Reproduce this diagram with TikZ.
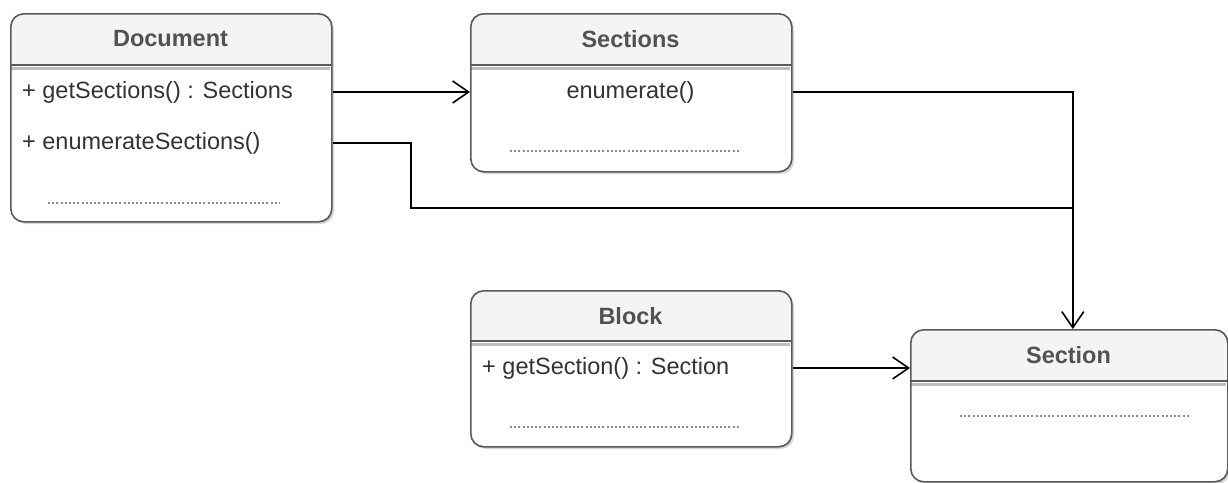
\documentclass[tikz,border=0pt]{standalone}
\usepackage{fontspec}
\setmainfont{Liberation Sans}
\usetikzlibrary{arrows.meta,calc}
\definecolor{headfill}{HTML}{F4F4F4}
\definecolor{boxline}{HTML}{5A5A5A}
\definecolor{sepline}{HTML}{BDBDBD}
\definecolor{shadowc}{HTML}{D6D6D6}
\definecolor{txt}{HTML}{333333}
\tikzset{
  boxborder/.style={draw=boxline, line width=1.6pt, rounded corners=13pt},
  hdr/.style={font=\fontsize{23.5pt}{28pt}\selectfont\bfseries, text=txt!85!white, inner sep=0pt},
  meth/.style={font=\fontsize{23.5pt}{28pt}\selectfont, text=txt, inner sep=0pt, anchor=west},
  cmeth/.style={font=\fontsize{23.5pt}{28pt}\selectfont, text=txt, inner sep=0pt},
  dots/.style={draw=gray!90, line width=1.2pt, dash pattern=on 2pt off 2.2pt},
  conn/.style={draw=black, line width=1.6pt},
  arr/.style={conn, -{Straight Barb[length=16pt,width=22pt,line width=1.6pt]}},
}
% #1 name, #2 x, #3 y, #4 w, #5 h, #6 header height
\newcommand\umlbox[6]{%
  \fill[shadowc, rounded corners=13pt] (#2+3,#3+3) rectangle ++(#4,#5);
  \fill[white, rounded corners=13pt] (#2,#3) rectangle ++(#4,#5);
  \fill[headfill] (#2,#3+#6) [rounded corners=13pt] -- (#2,#3) -- (#2+#4,#3) [sharp corners] -- (#2+#4,#3+#6) -- cycle;
  \draw[sepline, line width=3pt] (#2+1,#3+#6+3) -- (#2+#4-1,#3+#6+3);
  \draw[boxline, line width=1.6pt] (#2,#3+#6) -- (#2+#4,#3+#6);
  \node[boxborder, minimum width=#4pt, minimum height=#5pt, inner sep=0pt, anchor=north west] (#1) at (#2,#3) {};
}
\begin{document}
\begin{tikzpicture}[x=1pt,y=-1pt]
\useasboundingbox (0,0) rectangle (1228,482);
\path[fill=white] (0,0) rectangle (1228,482);

% Document
\umlbox{doc}{10}{13}{321}{208}{52}
\node[hdr] (docT) at (170.5,39) {Document};
\node[meth] (docM1) at (22,92) {+ getSections() : Sections};
\node[meth] (docM2) at (22,143) {+ enumerateSections()};
\draw[dots] (48,203) -- (280,203);

% Sections
\umlbox{secs}{470}{13}{321}{158}{52}
\node[hdr] (secsT) at (630.5,39) {Sections};
\node[cmeth] (secsM1) at (630.5,92) {enumerate()};
\draw[dots] (510,151) -- (740,151);

% Block
\umlbox{blk}{470}{290}{321}{156}{51}
\node[hdr] (blkT) at (630.5,316) {Block};
\node[meth] (blkM1) at (482,368) {+ getSection() : Section};
\draw[dots] (510,427) -- (740,427);

% Section
\umlbox{sec}{910}{329}{317}{152}{52}
\node[hdr] (secT) at (1068.5,355) {Section};
\draw[dots] (960,416) -- (1190,416);

% connectors
\coordinate (tip) at ($(sec.north)+(3.5,0)$);
\coordinate (join) at (tip |- 0,208);
\draw[arr] (doc.east |- docM1) -- (secs.west |- docM1);
\draw[arr] (secs.east |- secsM1) -| (tip);
\draw[conn] (doc.east |- docM2) -- (411,143) |- (join);
\draw[arr] (blk.east |- blkM1) -- (sec.west |- blkM1);
\end{tikzpicture}
\end{document}
